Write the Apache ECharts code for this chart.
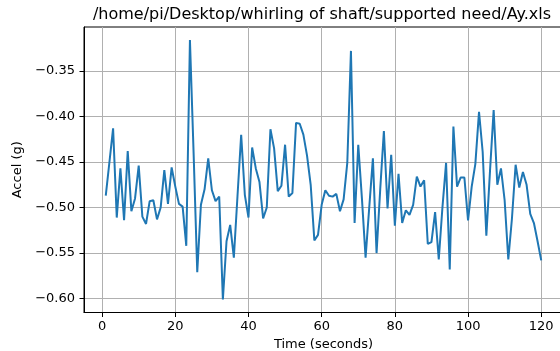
<!DOCTYPE html>
<html>
<head>
<meta charset="utf-8">
<script src="https://cdn.jsdelivr.net/npm/echarts@6/dist/echarts.min.js"></script>
<style>html,body{margin:0;padding:0;background:#fff;}#c{width:560px;height:351px;}</style>
</head>
<body>
<div id="c"></div>
<script>
const titleText = '/home/pi/Desktop/whirling of shaft/supported need/Ay.xls';
const xLabel = 'Time (seconds)';
const yLabel = 'Accel (g)';
const timeSec = [1,2,3,4,5,6,7,8,9,10,11,12,13,14,15,16,17,18,19,20,
  21,22,23,24,25,26,27,28,29,30,31,32,33,34,35,36,37,38,39,40,
  41,42,43,44,45,46,47,48,49,50,51,52,53,54,55,56,57,58,59,60,
  61,62,63,64,65,66,67,68,69,70,71,72,73,74,75,76,77,78,79,80,
  81,82,83,84,85,86,87,88,89,90,91,92,93,94,95,96,97,98,99,100,
  101,102,103,104,105,106,107,108,109,110,111,112,113,114,115,116,117,118,119,120];
const accelY = [
  -0.487,-0.450,-0.413,-0.511,-0.457,-0.514,-0.438,-0.504,-0.490,-0.454,
  -0.510,-0.518,-0.493,-0.492,-0.513,-0.500,-0.459,-0.496,-0.456,-0.477,
  -0.496,-0.499,-0.542,-0.316,-0.440,-0.571,-0.497,-0.480,-0.446,-0.481,
  -0.493,-0.488,-0.601,-0.537,-0.519,-0.555,-0.487,-0.420,-0.486,-0.511,
  -0.434,-0.457,-0.472,-0.512,-0.500,-0.414,-0.435,-0.482,-0.476,-0.431,
  -0.488,-0.484,-0.407,-0.408,-0.420,-0.443,-0.475,-0.536,-0.530,-0.497,
  -0.481,-0.487,-0.488,-0.485,-0.504,-0.491,-0.451,-0.328,-0.517,-0.431,
  -0.490,-0.555,-0.500,-0.446,-0.550,-0.480,-0.416,-0.501,-0.442,-0.520,
  -0.463,-0.517,-0.503,-0.508,-0.497,-0.466,-0.477,-0.470,-0.540,-0.538,
  -0.505,-0.557,-0.500,-0.451,-0.568,-0.411,-0.477,-0.467,-0.467,-0.514,
  -0.477,-0.452,-0.395,-0.439,-0.531,-0.460,-0.393,-0.475,-0.457,-0.492,
  -0.557,-0.512,-0.453,-0.478,-0.461,-0.475,-0.507,-0.517,-0.537,-0.558];
const xTicks = [0,20,40,60,80,100,120];
const yTicks = [-0.60,-0.55,-0.50,-0.45,-0.40,-0.35];

// matplotlib-style 5% margins
const xMinD = Math.min(...timeSec), xMaxD = Math.max(...timeSec);
const yMinD = Math.min(...accelY), yMaxD = Math.max(...accelY);
const xPad = (xMaxD - xMinD) * 0.05, yPad = (yMaxD - yMinD) * 0.05;

const FONT = 'DejaVu Sans';
const fmt = v => (v < 0 ? '\u2212' : '') + Math.abs(v).toFixed(2);

const chart = echarts.init(document.getElementById('c'), null, {renderer: 'canvas'});
chart.setOption({
  animation: false,
  backgroundColor: '#fff',
  textStyle: {fontFamily: FONT},
  grid: {left: 84, right: -3, top: 27, bottom: 38.5, containLabel: false, outerBoundsMode: 'none',
    show: true, borderColor: '#000', borderWidth: 1, backgroundColor: 'transparent'},
  graphic: [{type: 'text', x: 322, y: 15, z: 10,
    style: {text: titleText, font: '16px "DejaVu Sans"', fill: '#000', align: 'center', verticalAlign: 'middle'}}],
  xAxis: {
    type: 'value', min: xMinD - xPad, max: xMaxD + xPad,
    name: xLabel, nameLocation: 'middle', nameGap: 25,
    nameTextStyle: {fontFamily: FONT, fontSize: 13, color: '#000'},
    axisLine: {show: true, onZero: false, lineStyle: {color: '#000', width: 1}},
    axisTick: {show: true, customValues: xTicks, length: 4.5, lineStyle: {color: '#000', width: 1}},
    axisLabel: {customValues: xTicks, margin: 8, fontFamily: FONT, fontSize: 13, color: '#000',
      formatter: v => String(Math.round(v))},
    splitLine: {show: true, lineStyle: {color: '#b0b0b0', width: 1}}
  },
  yAxis: {
    type: 'value', min: yMinD - yPad, max: yMaxD + yPad,
    name: yLabel, nameLocation: 'middle', nameGap: 56, nameRotate: 90,
    nameTextStyle: {fontFamily: FONT, fontSize: 13, color: '#000'},
    axisLine: {show: true, onZero: false, lineStyle: {color: '#000', width: 1}},
    axisTick: {show: true, customValues: yTicks, length: 4.5, lineStyle: {color: '#000', width: 1}},
    axisLabel: {customValues: yTicks, margin: 9, fontFamily: FONT, fontSize: 13, color: '#000', formatter: fmt},
    splitLine: {show: true, lineStyle: {color: '#b0b0b0', width: 1}}
  },
  series: [{
    type: 'line',
    data: timeSec.map((t, i) => [t, accelY[i]]),
    showSymbol: false, symbol: 'none',
    lineStyle: {color: '#1f77b4', width: 2},
    clip: true
  }]
});
</script>
</body>
</html>
